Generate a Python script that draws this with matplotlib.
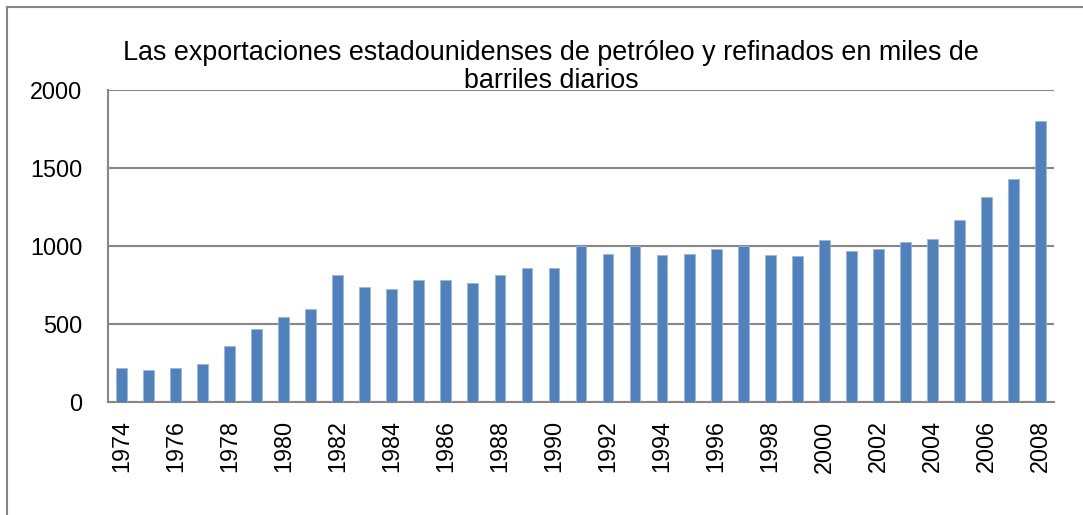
import matplotlib
matplotlib.use("Agg")
import matplotlib.pyplot as plt
from matplotlib.lines import Line2D
import numpy as np

# US crude oil and refined products exports, thousand barrels per day
years = list(range(1974, 2009))
exports = [220, 207, 222, 243, 361, 472, 545, 596, 816, 739,
           724, 782, 784, 763, 814, 859, 857, 1001, 950, 1003,
           942, 949, 981, 1003, 945, 940, 1040, 971, 984, 1027,
           1048, 1165, 1317, 1433, 1802]
y_ticks = [0, 500, 1000, 1500, 2000]

title_lines = ["Las exportaciones estadounidenses de petróleo y refinados en miles de",
               "barriles diarios"]

plt.rcParams['font.family'] = ['Liberation Sans', 'DejaVu Sans']

W, H = 1083, 515
fig = plt.figure(figsize=(W / 100, H / 100), dpi=100)
ax = fig.add_axes([108 / W, 1 - 402.3 / H, (1054 - 108) / W, (402.3 - 90) / H])

grey = '#868686'
x = np.arange(len(years))
ax.bar(x, exports, width=0.4, color='#4F81BD', edgecolor='#9DB6DA',
       linewidth=0.6, zorder=3)

ax.set_xlim(-0.5, len(years) - 0.5)
ax.set_ylim(0, 2000)
ax.set_yticks(y_ticks)
ax.set_yticklabels([str(v) for v in y_ticks])
ax.set_xticks(x[::2])
ax.set_xticklabels([str(y) for y in years[::2]], rotation=90)

ax.tick_params(axis='y', length=0, pad=18.5, labelsize=16.8)
ax.tick_params(axis='x', length=0, pad=13, labelsize=16.8)
ax.yaxis.grid(True, color=grey, linewidth=1.5, zorder=0)
ax.set_axisbelow(True)

for side in ['top', 'right']:
    ax.spines[side].set_visible(False)
for side in ['left', 'bottom']:
    ax.spines[side].set_color(grey)
    ax.spines[side].set_linewidth(1.5)

# chart area border (left and top edges)
fig.add_artist(Line2D([6.5 / W, 6.5 / W], [0, 1 - 6.5 / H], color=grey, lw=1.5))
fig.add_artist(Line2D([6.5 / W, 1], [1 - 6.5 / H, 1 - 6.5 / H], color=grey, lw=1.5))

fig.text(551 / W, 1 - 60 / H, title_lines[0], ha='center', va='baseline', fontsize=19.4)
fig.text(551 / W, 1 - 88 / H, title_lines[1], ha='center', va='baseline', fontsize=19.4)

fig.savefig('out.png', dpi=100)
